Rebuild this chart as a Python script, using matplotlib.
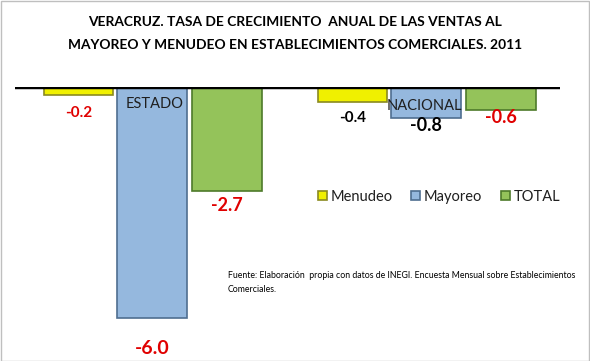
import matplotlib
matplotlib.use("Agg")
import matplotlib.pyplot as plt
from matplotlib.patches import Rectangle

# data
groups = ["ESTADO", "NACIONAL"]
series = ["Menudeo", "Mayoreo", "TOTAL"]
menudeo = [-0.2, -0.4]
mayoreo = [-6.0, -0.8]
total = [-2.7, -0.6]

colors = ["#F0F000", "#95B8DE", "#94C35A"]
edges = ["#8A8A20", "#4F6E90", "#4E7A2A"]

plt.rcParams["font.family"] = ["Lato", "DejaVu Sans"]

fig = plt.figure(figsize=(5.9, 3.61), dpi=100)
W, H = 590, 361
fig.patches.append(Rectangle((0.5 / W, 0.5 / H), 1 - 1.5 / W, 1 - 1.5 / H,
                             transform=fig.transFigure, fill=False,
                             edgecolor="#BFBFBF", lw=1))

# axes placed in pixel terms: zero line at y=87, -7 at 356.5
ax = fig.add_axes([15 / W, (H - 356.5) / H, 545 / W, 269.5 / H])
ax.set_xlim(0, 545 / 72)
ax.set_ylim(-7, 0)
ax.axis("off")

centers = [(152 - 15) / 72, (426 - 15) / 72]
offsets = [-1.02, 0, 1.04]
width = 0.97
for vals, off, c, e, name in zip([menudeo, mayoreo, total], offsets, colors, edges, series):
    xs = [cx + off for cx in centers]
    ax.bar(xs, vals, width=width, color=c, edgecolor=e, linewidth=1.2, label=name, zorder=2)

ax.axhline(0, color="black", lw=3.2, zorder=3)

# value labels
lab = dict(ha="center", va="center", fontweight="bold")
ax.text(centers[0] + offsets[0], -0.68, "-0.2", color="#E00000", fontsize=11, **lab)
ax.text(centers[0], -6.8, "-6.0", color="#E00000", fontsize=14, **lab)
ax.text(centers[0] + offsets[2], -3.08, "-2.7", color="#E00000", fontsize=13, **lab)
ax.text(centers[1] + offsets[0], -0.8, "-0.4", color="black", fontsize=11, **lab)
ax.text(centers[1], -1.01, "-0.8", color="black", fontsize=13, **lab)
ax.text(centers[1] + offsets[2], -0.8, "-0.6", color="#E00000", fontsize=13, **lab)

ax.text(centers[0] + 0.04, -0.45, "ESTADO", ha="center", va="center", fontsize=10.5, color="#1F1F1F")
ax.text(centers[1] - 0.02, -0.5, "NACIONAL", ha="center", va="center", fontsize=10.5, color="#1F1F1F")

fig.text(295 / W, 1 - 22 / H, "VERACRUZ. TASA DE CRECIMIENTO  ANUAL DE LAS VENTAS AL",
         ha="center", va="center", fontsize=9.9, fontweight="bold")
fig.text(295 / W, 1 - 45 / H, "MAYOREO Y MENUDEO EN ESTABLECIMIENTOS COMERCIALES. 2011",
         ha="center", va="center", fontsize=9.9, fontweight="bold")

leg = fig.legend(loc="center left", bbox_to_anchor=(318 / W, 1 - 197 / H), ncol=3,
                 frameon=False, fontsize=10.5, handlelength=0.6, handleheight=0.6,
                 handletextpad=0.25, columnspacing=1.3, borderaxespad=0, borderpad=0)
for t in leg.get_texts():
    t.set_color("#1F1F1F")

fig.text(228 / W, 1 - 276 / H,
         "Fuente: Elaboración  propia con datos de INEGI. Encuesta Mensual sobre Establecimientos",
         ha="left", va="center", fontsize=6.3)
fig.text(228 / W, 1 - 289 / H, "Comerciales.", ha="left", va="center", fontsize=6.3)

fig.savefig("out.png", dpi=100)
